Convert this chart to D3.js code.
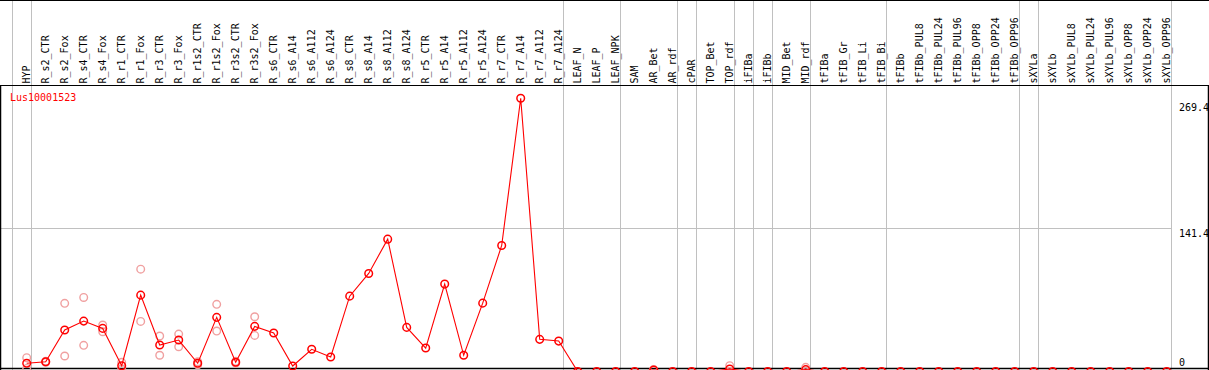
<!DOCTYPE html>
<html><head><meta charset="utf-8">
<script src="https://cdn.jsdelivr.net/npm/d3@7"></script>
<style>
html,body{margin:0;padding:0;background:#fff;}
svg{display:block;}
text{font-family:"DejaVu Sans Mono",monospace;font-size:10px;}
</style></head>
<body>
<script>
const categories = ["HYP","R_s2_CTR","R_s2_Fox","R_s4_CTR","R_s4_Fox","R_r1_CTR","R_r1_Fox","R_r3_CTR","R_r3_Fox","R_r1s2_CTR","R_r1s2_Fox","R_r3s2_CTR","R_r3s2_Fox","R_s6_CTR","R_s6_A14","R_s6_A112","R_s6_A124","R_s8_CTR","R_s8_A14","R_s8_A112","R_s8_A124","R_r5_CTR","R_r5_A14","R_r5_A112","R_r5_A124","R_r7_CTR","R_r7_A14","R_r7_A112","R_r7_A124","LEAF_N","LEAF_P","LEAF_NPK","SAM","AR_Bet","AR_rdf","cPAR","TOP_Bet","TOP_rdf","iFIBa","iFIBb","MID_Bet","MID_rdf","tFIBa","tFIB_Gr","tFIB_Li","tFIB_Bi","tFIBb","tFIBb_PUL8","tFIBb_PUL24","tFIBb_PUL96","tFIBb_OPP8","tFIBb_OPP24","tFIBb_OPP96","sXYLa","sXYLb","sXYLb_PUL8","sXYLb_PUL24","sXYLb_PUL96","sXYLb_OPP8","sXYLb_OPP24","sXYLb_OPP96"];
const meanValues = [8.1,9.6,40.9,49.7,42.5,5.7,75.3,26.1,31,8.1,53.4,9.1,44.5,37.9,5.4,21.9,14.3,74.3,96.7,130.5,43.5,23.1,86.2,16,67.4,124.3,269.4,31.7,30,
 0,0,0,0,1.5,0,0,0,2.5,0,0,0,1.8,0,0,0,0,0,0,0,0,0,0,0,0,0,0,0,0,0,0,0];
const rep1 = [13.6,10,67.2,73,45.8,9,100.9,35,36.9,9.6,66.2,10,54,null,null,null,null,null,null,null,null,null,null,null,null,null,null,null,null,
 null,null,null,null,2,null,null,null,5.7,null,null,null,4.1,null,null,null,null,null,null,null,null,null,null,null,null,null,null,null,null,null,null,null];
const rep2 = [3,9,15.3,25.8,39.2,2.4,49.4,16,24.4,6.6,39.9,8.2,35.6,null,null,null,null,null,null,null,null,null,null,null,null,null,null,null,null,
 null,null,null,null,1,null,null,null,0,null,null,null,0,null,null,null,null,null,null,null,null,null,null,null,null,null,null,null,null,null,null,null];
const groupEnds = ["HYP","R_r7_A124","LEAF_NPK","AR_rdf","cPAR","TOP_rdf","iFIBa","iFIBb","MID_rdf","tFIB_Bi","tFIBb_OPP96","sXYLa","sXYLb_OPP96"];
const yTicks = [0,141.4,269.4];
const geneName = "Lus10001523";

const W = 1209, H = 370;
const svg = d3.select("body").append("svg").attr("width",W).attr("height",H);

const x = d3.scalePoint().domain(categories).range([26.7, 26.7 + 19*(categories.length-1)]);
const step = x.step();
const y = d3.scaleLinear().domain([0,269.4]).range([371.5, 98.3]);

const headerY = 85.5, bottomY = 368.5, plotRight = 1208.5;

// grey group separators
const sepX = [x(categories[0]) - step + 4].concat(groupEnds.map(c => x(c) + 4));
svg.append("g").selectAll("line").data(sepX).join("line")
  .attr("x1", d => Math.round(d)+0.5).attr("x2", d => Math.round(d)+0.5)
  .attr("y1", 0).attr("y2", H)
  .attr("stroke","#c0c0c0").attr("stroke-width",1);

// horizontal grid at middle tick
svg.append("line")
  .attr("x1",0).attr("x2", Math.round(x(categories[categories.length-1])+4)+0.5)
  .attr("y1", Math.round(y(141.4))+0.5).attr("y2", Math.round(y(141.4))+0.5)
  .attr("stroke","#c0c0c0").attr("stroke-width",1);

// borders
svg.append("line").attr("x1",0).attr("x2",W).attr("y1",0.5).attr("y2",0.5).attr("stroke","#000");
svg.append("line").attr("x1",0).attr("x2",W).attr("y1",headerY).attr("y2",headerY).attr("stroke","#000");
svg.append("line").attr("x1",0).attr("x2",W).attr("y1",bottomY).attr("y2",bottomY).attr("stroke","#000").attr("stroke-width",1.5);
svg.append("line").attr("x1",0.5).attr("x2",0.5).attr("y1",headerY).attr("y2",H).attr("stroke","#000").attr("stroke-width",1.5);
svg.append("line").attr("x1",plotRight).attr("x2",plotRight).attr("y1",headerY).attr("y2",H).attr("stroke","#000").attr("stroke-width",1.5);

// header labels
svg.append("g").selectAll("text").data(categories).join("text")
  .attr("transform", d => `translate(${x(d)+3.5},83.5) rotate(-90)`)
  .attr("text-anchor","start")
  .attr("fill","#000")
  .text(d => d);

// y tick labels
svg.append("g").selectAll("text").data(yTicks).join("text")
  .attr("x", 1179)
  .attr("y", d => Math.min(Math.max(y(d) + 8.6, 111), 365.5))
  .attr("fill","#000")
  .text(d => d === 0 ? "0" : d.toFixed(1));

// title
svg.append("text").attr("x",10).attr("y",100.5).attr("fill","#ff0000").text(geneName);

// replicate points
const reps = [];
categories.forEach((c,i) => {
  [rep1[i], rep2[i]].forEach(v => { if (v !== null) reps.push({c, v}); });
});
svg.append("g").selectAll("circle").data(reps).join("circle")
  .attr("cx", d => x(d.c)).attr("cy", d => y(d.v)).attr("r",3.8)
  .attr("fill","none").attr("stroke","#f0a0a0").attr("stroke-width",1.4);

// main line
const pts = categories.map((c,i) => ({c, v: meanValues[i]}));
svg.append("path").datum(pts)
  .attr("d", d3.line().x(d => x(d.c)).y(d => y(d.v)))
  .attr("fill","none").attr("stroke","#ff0000").attr("stroke-width",1.1);
svg.append("g").selectAll("circle").data(pts).join("circle")
  .attr("cx", d => x(d.c)).attr("cy", d => y(d.v)).attr("r",3.8)
  .attr("fill","none").attr("stroke","#ff0000").attr("stroke-width",1.5);
</script>
</body></html>
